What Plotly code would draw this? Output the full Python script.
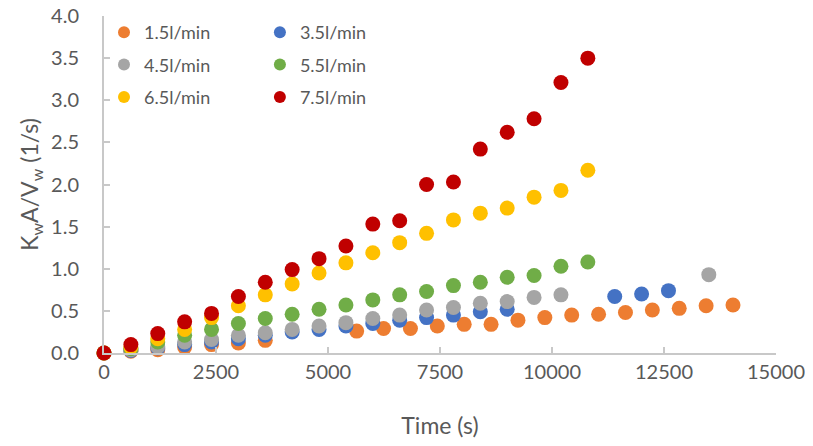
import plotly.graph_objects as go

# ---- data ----
t_15 = [0, 600, 1200, 1800, 2400, 3000, 3600, 5640, 6240, 6840, 7440, 8040, 8640, 9240,
        9840, 10440, 11040, 11640, 12240, 12840, 13440, 14040]
v_15 = [0.00, 0.02, 0.04, 0.07, 0.10, 0.12, 0.15, 0.26, 0.29, 0.29, 0.32, 0.34, 0.34, 0.39,
        0.42, 0.45, 0.46, 0.48, 0.51, 0.53, 0.56, 0.57]

t_35 = [0, 600, 1200, 1800, 2400, 3000, 3600, 4200, 4800, 5400, 6000, 6600, 7200, 7800,
        8400, 9000, 11400, 12000, 12600]
v_35 = [0.00, 0.03, 0.06, 0.10, 0.13, 0.17, 0.21, 0.25, 0.28, 0.32, 0.35, 0.39, 0.42, 0.45,
        0.49, 0.52, 0.67, 0.70, 0.74]

t_45 = [0, 600, 1200, 1800, 2400, 3000, 3600, 4200, 4800, 5400, 6000, 6600, 7200, 7800,
        8400, 9000, 9600, 10200, 13500]
v_45 = [0.00, 0.04, 0.075, 0.13, 0.16, 0.21, 0.24, 0.28, 0.32, 0.36, 0.41, 0.45, 0.51, 0.54,
        0.59, 0.61, 0.66, 0.69, 0.93]

t_55 = [0, 600, 1200, 1800, 2400, 3000, 3600, 4200, 4800, 5400, 6000, 6600, 7200, 7800,
        8400, 9000, 9600, 10200, 10800]
v_55 = [0.00, 0.05, 0.13, 0.21, 0.28, 0.35, 0.41, 0.46, 0.52, 0.57, 0.63, 0.69, 0.73, 0.80,
        0.84, 0.90, 0.92, 1.03, 1.08]

t_65 = [0, 600, 1200, 1800, 2400, 3000, 3600, 4200, 4800, 5400, 6000, 6600, 7200, 7800,
        8400, 9000, 9600, 10200, 10800]
v_65 = [0.00, 0.07, 0.17, 0.28, 0.42, 0.56, 0.69, 0.82, 0.95, 1.07, 1.19, 1.31, 1.42, 1.58,
        1.66, 1.72, 1.85, 1.93, 2.17]

t_75 = [0, 600, 1200, 1800, 2400, 3000, 3600, 4200, 4800, 5400, 6000, 6600, 7200, 7800,
        8400, 9000, 9600, 10200, 10800]
v_75 = [0.00, 0.10, 0.23, 0.37, 0.47, 0.67, 0.84, 0.99, 1.12, 1.27, 1.53, 1.57, 2.00, 2.03,
        2.42, 2.62, 2.78, 3.21, 3.50]

series_names = ["1.5l/min", "3.5l/min", "4.5l/min", "5.5l/min", "6.5l/min", "7.5l/min"]
series_t = [t_15, t_35, t_45, t_55, t_65, t_75]
series_v = [v_15, v_35, v_45, v_55, v_65, v_75]
colors = ["#ED7D31", "#4472C4", "#A5A5A5", "#70AD47", "#FFC000", "#C00000"]
legend_ids = ["legend", "legend2", "legend", "legend2", "legend", "legend2"]

x_ticks = [0, 2500, 5000, 7500, 10000, 12500, 15000]
y_ticks = [0.0, 0.5, 1.0, 1.5, 2.0, 2.5, 3.0, 3.5, 4.0]

FONT = "Lato, 'Open Sans', sans-serif"
GREY_TXT = "#595959"
AXIS_C = "#C8C8C8"

fig = go.Figure()
for name, t, v, c, lg in zip(series_names, series_t, series_v, colors, legend_ids):
    fig.add_trace(go.Scatter(
        x=t, y=v, mode="markers", name=name,
        marker=dict(color=c, size=15, line=dict(width=0)),
        cliponaxis=False, legend=lg, legendgroup=name,
    ))

legend_common = dict(
    font=dict(family=FONT, size=18, color=GREY_TXT),
    bgcolor="rgba(0,0,0,0)", yanchor="top", xanchor="left",
    itemsizing="constant", tracegroupgap=6, orientation="v",
)

# page body has an 8px default margin, so the figure is sized 8px smaller
fig.update_layout(
    width=805, height=438,
    margin=dict(l=96, r=37, t=8, b=93, autoexpand=False),
    paper_bgcolor="white", plot_bgcolor="white",
    font=dict(family=FONT, size=18, color=GREY_TXT),
    legend=dict(x=0.0, y=1.006, **legend_common),
    legend2=dict(x=0.232, y=1.006, **legend_common),
    xaxis=dict(
        range=[0, 15000], tickvals=x_ticks, ticktext=[str(v) for v in x_ticks],
        showgrid=False, zeroline=False, showline=True, linecolor=AXIS_C, linewidth=2,
        ticks="inside", ticklen=6, tickcolor=AXIS_C, tickwidth=1.5,
        tickfont=dict(family=FONT, size=20, color=GREY_TXT),
        title=dict(text="Time (s)", font=dict(family=FONT, size=23, color=GREY_TXT), standoff=36),
        ticklabelstandoff=0, automargin=False, ticklabeloverflow="allow",
    ),
    yaxis=dict(
        range=[0, 4.0], tickvals=y_ticks, ticktext=[f"{v:.1f}" for v in y_ticks],
        showgrid=False, zeroline=False, showline=True, linecolor=AXIS_C, linewidth=2,
        ticks="inside", ticklen=6, tickcolor=AXIS_C, tickwidth=1.5,
        tickfont=dict(family=FONT, size=20, color=GREY_TXT),
        title=dict(text="K<sub>w</sub>A/V<sub>w</sub> (1/s)",
                   font=dict(family=FONT, size=23, color=GREY_TXT), standoff=6),
        ticklabelstandoff=19, automargin=False, ticklabeloverflow="allow",
    ),
    showlegend=True,
)

fig.write_html("out.html")
